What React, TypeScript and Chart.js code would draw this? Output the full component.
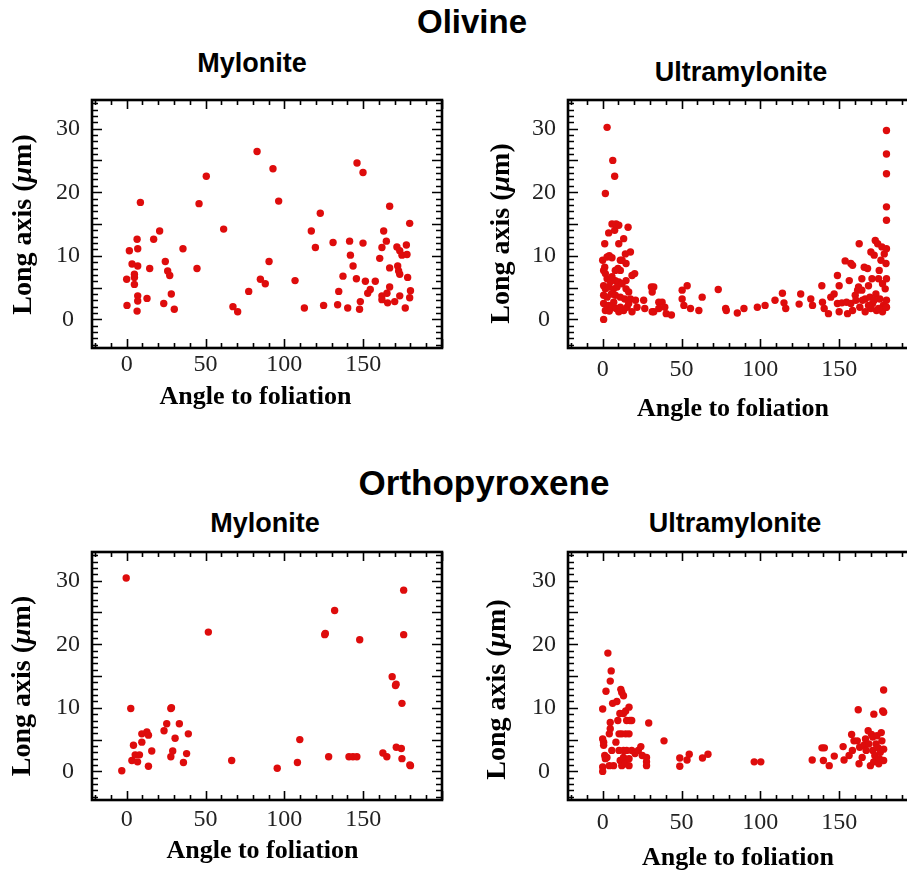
import React, { useEffect, useRef } from "react";
import { Chart, registerables } from "chart.js";

Chart.register(...registerables);

// ---------- data (angle to foliation [deg], long axis [µm]) ----------
const olivineMylonite: [number, number][] = [
  [0, 6.3], [0.2, 2.2], [1.7, 10.8], [3.4, 8.7], [4.9, 7.1], [4.9, 6.6], [4.9, 5.5], [6.6, 12.6],
  [7, 11.1], [7, 8.4], [7, 3.7], [7, 2.9], [6.6, 1.3], [8.7, 18.4], [12.9, 3.3], [14.6, 8],
  [17.1, 12.6], [20.9, 13.9], [23.5, 2.5], [24.5, 9.1], [26, 7.6], [27.3, 6.9], [28.3, 4], [30.2, 1.6],
  [35.7, 11.1], [44.6, 8], [45.9, 18.2], [50.5, 22.5], [61.5, 14.2], [67.4, 2], [70.4, 1.2], [77.4, 4.4],
  [82.7, 26.4], [84.8, 6.3], [87.9, 5.6], [90.3, 9.1], [92.8, 23.7], [96.4, 18.6], [106.8, 6.1], [112.7, 1.8],
  [117.1, 13.9], [119.7, 11.3], [122.8, 16.7], [124.9, 2.2], [130.9, 12.1], [133.8, 2.3], [134.5, 4.4],
  [137.2, 6.8], [140.2, 1.8], [141.4, 12.3], [141.9, 10.1], [143.6, 8.4], [145.7, 6.4], [146.1, 24.6],
  [147.7, 1.6], [148.2, 2.8], [149.9, 12], [149.9, 23.1], [151.4, 6], [152.9, 4.1], [154.5, 4.7],
  [157.7, 6], [160.5, 9.6], [161.9, 11.3], [161.9, 3.7], [161.9, 3.1], [163, 13.9], [164.7, 12.3],
  [165.1, 4.1], [165.5, 2.6], [166.8, 17.8], [166.8, 8.1], [166.8, 5.1], [170, 2.8], [171.4, 11.4],
  [171.9, 8.4], [172.5, 7.6], [173.2, 10.8], [173.2, 7.1], [173.2, 3.7], [174.6, 10.1], [176.7, 1.8],
  [177.4, 11.7], [177.8, 10.2], [178.2, 6.6], [179.5, 15.1], [179.5, 3.4], [180, 4.5],
];

const olivineUltramylonite: [number, number][] = [
  [0.6, 0], [2.8, 30.2], [1.7, 19.8], [6.4, 25], [7.6, 22.5], [1.3, 11.9], [0, 9.3], [0.6, 7.7],
  [1.3, 8.2], [2.8, 9.8], [3.8, 13.6], [4.2, 10], [5.9, 9.7], [5.9, 15], [7.6, 14], [8.5, 15],
  [10.2, 14.8], [10.2, 11.9], [11.2, 9.3], [9.7, 8], [11.2, 7.7], [13.3, 12.7], [16.1, 14.5], [14.4, 10.3],
  [14.8, 8.8], [17.6, 10.6], [20.3, 7.2], [18.6, 6.9], [2.8, 6.4], [8, 6.1], [10.2, 5.9], [14.8, 6.1],
  [0.6, 5.3], [1.7, 4.8], [3.8, 5.1], [6.9, 4.8], [9.1, 5.1], [14.8, 4.8], [16.5, 4.3], [0.6, 3.8],
  [2.8, 3.5], [5.5, 4], [8, 3.8], [11.2, 3.5], [14, 3.2], [17.6, 3.2], [20.8, 3], [0.6, 2.5],
  [3.8, 2.2], [5.9, 1.9], [8.5, 1.7], [11.2, 1.9], [13.3, 1.4], [15.5, 1.9], [18.6, 1.2], [21.8, 1.9],
  [1.7, 1.4], [4.2, 1.3], [10.2, 1.2], [16.5, 2.5], [7, 2.7], [4.9, 5.9], [12.3, 5.6], [1.7, 7.2],
  [5.9, 6.7], [8, 7.7], [12.3, 9.3],
  [26, 3], [26.7, 1.7], [30.9, 5.1], [32.4, 5.1], [31.4, 4.3], [32.4, 1.2], [31.4, 1.2], [35.6, 2.7],
  [37.7, 2.7], [35.6, 1.7], [39.4, 1.9], [40.3, 0.9], [43.6, 0.7], [50.4, 4.6], [53.6, 5.3], [50.4, 3.2],
  [51.5, 2.2], [55.7, 1.7], [61, 1.4], [63.1, 3.5], [73.3, 4.7], [78, 1.7], [78.4, 1.4], [85.4, 1],
  [89.6, 1.7], [98.1, 1.9], [103, 2.2], [109.3, 3], [114, 4.1], [115, 2.6], [116.1, 1.7], [124.6, 2.4],
  [125.6, 4], [132, 3.2], [133.1, 2.2], [139, 5.3], [139.4, 2.7], [140.5, 1.7], [143.2, 0.9],
  [144.7, 3.5], [146.8, 4], [148.9, 6.9], [150, 5.3], [148.9, 2.5], [150, 1.2], [151.7, 2.6], [153.8, 9.2],
  [154.7, 2.7], [155.3, 0.9], [156.4, 6.1], [157.4, 8.8], [158.5, 8.5], [157.4, 2.5], [158.5, 1.4],
  [160.2, 3.8], [160.6, 3], [161.7, 4.6], [162.3, 5.1], [162.7, 11.9], [163.1, 1.9], [164.4, 4.6],
  [164.4, 6.4], [165.9, 8.2], [166.5, 1.2], [166.5, 3.2], [168, 8], [168.6, 5.3], [169.5, 3.5],
  [170.1, 10.6], [170.8, 6.4], [171.2, 2.5], [172.2, 10.1], [172.9, 12.4], [173.3, 4], [173.7, 1.4],
  [174.4, 11.9], [175, 6.4], [175.4, 7.7], [175.8, 3.2], [176.5, 9.3], [177.1, 11.4], [177.5, 5.6],
  [178, 2.2], [178.6, 10.3], [179.2, 4.8], [179.7, 1.9], [179.7, 8.8], [180, 15.6], [180, 17.7],
  [180, 22.9], [180, 26], [180, 29.7], [180, 11.1], [180, 3], [177.5, 1.2], [175, 1.7], [172.2, 3],
  [170.1, 1.7], [168.6, 2.2], [164.8, 3], [180, 6.4], [180, 1.9],
];

const orthoMylonite: [number, number][] = [
  [-3.1, 0.1], [-0.3, 30.4], [2.6, 9.9], [4.3, 4.1], [3.3, 1.7], [5.4, 2.6], [6.9, 1.5], [8.1, 2.6],
  [9.6, 4.6], [9.6, 5.9], [12.8, 6.2], [13.8, 5.7], [13.8, 0.8], [15.9, 3.2], [23.7, 6.4], [25.4, 7.5],
  [28, 9.9], [28.4, 10], [28, 2.3], [29.2, 3.2], [30.7, 5.2], [33.4, 7.5], [36, 1.4], [38, 2.8],
  [39.1, 5.9], [51.8, 21.9], [66.6, 1.7], [95.5, 0.5], [108.3, 1.4], [109.8, 5], [125.6, 21.5],
  [126, 21.7], [131.9, 25.3], [128.1, 2.3], [141, 2.3], [143.5, 2.3], [146, 2.3], [147.8, 20.7],
  [162.5, 2.9], [165, 2.3], [168.4, 14.9], [170.5, 13.5], [170.9, 13.7], [171, 3.8], [174.2, 3.6],
  [174.6, 10.7], [174.6, 2], [175.7, 28.5], [175.7, 21.5], [180, 0.9], [179.6, 1],
];

const orthoUltramylonite: [number, number][] = [
  [0, 0], [0, 0.7], [0, 9.8], [0, 5.1], [0.6, 4.6], [0.6, 4.1], [1.3, 2.5], [1.7, 2], [2.7, 2.2],
  [2.1, 12.6], [3.3, 18.6], [4.2, 0.9], [4.2, 5.9], [4.8, 6.7], [4.8, 7.7], [5.4, 15.8], [4.8, 14.2],
  [6.3, 10.7], [5.8, 3.3], [6.9, 0.9], [9, 11], [9.6, 8], [8.4, 4.6], [10.4, 3.3], [11.5, 12.9],
  [10.9, 9.1], [12.1, 12.4], [13.2, 11.9], [13.2, 9.1], [14.6, 9.5], [10.4, 5.9], [12.1, 5.9], [14.6, 5.9],
  [16.7, 5.9], [15.2, 8], [17.3, 8], [18.4, 8], [16.7, 10.1], [11.1, 1.7], [12.1, 0.9], [13.2, 2.2],
  [14.2, 1.2], [13.2, 3.3], [15.2, 3.3], [16.7, 2], [16.7, 0.9], [18.4, 3.3], [20.5, 2.8], [22.6, 3.3],
  [24.2, 3.9], [25.1, 2.5], [27.8, 2.2], [27.8, 1.5], [27.8, 0.9], [29.2, 7.6], [38.9, 4.8], [48.9, 2.1],
  [48.9, 0.8], [53.5, 1.8], [54.9, 2.7], [63.3, 2.1], [66.8, 2.7], [96.1, 1.5], [100.3, 1.5],
  [132.9, 1.8], [139.1, 3.7], [140.6, 3.7], [140, 1.7], [143.7, 0.9], [146.9, 2.4], [152.5, 3.9],
  [153.1, 1.8], [156.3, 2.5], [157.9, 5.8], [158.4, 3.3], [159.4, 4.8], [162.1, 9.7], [162.6, 1.2],
  [161.5, 4.8], [163, 3.8], [164.6, 2.2], [165.7, 4.1], [166.7, 5.1], [167.1, 3.3], [168.4, 6.4],
  [168.8, 4.3], [169.8, 0.9], [170.5, 5.8], [171.3, 5.4], [171.3, 3.3], [172, 9], [171.9, 1.5],
  [172.6, 2.5], [173.4, 4.3], [174, 5.6], [174.7, 3.7], [175.1, 1.2], [176.1, 3], [176.7, 6.1],
  [177.1, 4.8], [177.6, 9.5], [178.2, 12.8], [178.2, 3.5], [178.2, 1.7], [175.5, 2], [178.2, 9.3],
];

const xTickLabels = [0, 50, 100, 150];
const yTickLabels = [0, 10, 20, 30];
const xAxisTitle = "Angle to foliation";
const yAxisTitle = "Long axis (μm)";
const sectionTitles = ["Olivine", "Orthopyroxene"];
const panelTitles = ["Mylonite", "Ultramylonite"];

// ---------- styling / layout ----------
const X_MIN = -22, X_MAX = 200, Y_MIN = -4.5, Y_MAX = 34.5;
const POINT_COLOR = "rgb(222, 12, 12)";
const SERIF = '"Liberation Serif", "Times New Roman", serif';
const SANS = '"Liberation Sans", Arial, Helvetica, sans-serif';
const CANVAS_W = 455, CANVAS_H = 340;

type PanelCfg = {
  data: [number, number][];
  left: number; top: number;
  xTickPad: number; xTitleDx: number; xTitleDy: number; yTitleDx: number; yTitleDy: number;
};

const panels: PanelCfg[] = [
  { data: olivineMylonite, left: 0, top: 88, xTickPad: 2, xTitleDx: -11.5, xTitleDy: 49, yTitleDx: 68, yTitleDy: 0.5 },
  { data: olivineUltramylonite, left: 476, top: 88, xTickPad: 7, xTitleDx: -10, xTitleDy: 61, yTitleDx: 66, yTitleDy: 9.5 },
  { data: orthoMylonite, left: 0, top: 540, xTickPad: 5, xTitleDx: -4.5, xTitleDy: 51, yTitleDx: 69, yTitleDy: 10 },
  { data: orthoUltramylonite, left: 476, top: 540, xTickPad: 8, xTitleDx: -5, xTitleDy: 58, yTitleDx: 70, yTitleDy: 13.5 },
];

const framePlugin = {
  id: "frameTicks",
  afterDraw(chart: any) {
    const { ctx, chartArea: a, scales } = chart;
    const xs = scales.x, ys = scales.y;
    ctx.save();
    ctx.strokeStyle = "#000";
    ctx.lineWidth = 1.6;
    ctx.beginPath();
    for (let v = Math.ceil(Y_MIN); v <= Math.floor(Y_MAX); v += 1) {
      const y = Math.round(ys.getPixelForValue(v)) + 0.5;
      const len = v % 5 === 0 ? 10 : 6;
      ctx.moveTo(a.left, y); ctx.lineTo(a.left + len, y);
      ctx.moveTo(a.right, y); ctx.lineTo(a.right - len, y);
    }
    for (let v = -20; v <= X_MAX; v += 10) {
      const x = Math.round(xs.getPixelForValue(v)) + 0.5;
      const len = v % 50 === 0 ? 9 : 5;
      ctx.moveTo(x, a.bottom); ctx.lineTo(x, a.bottom - len);
      ctx.moveTo(x, a.top); ctx.lineTo(x, a.top + len);
    }
    ctx.stroke();
    ctx.lineWidth = 2.6;
    ctx.strokeRect(a.left, a.top, a.right - a.left, a.bottom - a.top);
    ctx.restore();
  },
};

const axisTitlePlugin = {
  id: "axisTitles",
  afterDraw(chart: any, _args: any, opts: any) {
    const { ctx, chartArea: a } = chart;
    ctx.save();
    ctx.fillStyle = "#000";
    ctx.textBaseline = "middle";
    ctx.font = `bold 26px ${SERIF}`;
    ctx.textAlign = "center";
    ctx.fillText(xAxisTitle, (a.left + a.right) / 2 + opts.xDx, a.bottom + opts.xDy);
    const [pre, post] = yAxisTitle.split("μ");
    const parts = [
      { t: pre, f: `bold 28px ${SERIF}` },
      { t: "μ", f: `italic bold 28px ${SERIF}` },
      { t: post, f: `bold 28px ${SERIF}` },
    ];
    let total = 0;
    const widths = parts.map((p) => { ctx.font = p.f; const w = ctx.measureText(p.t).width; total += w; return w; });
    ctx.translate(a.left - opts.yDx, (a.top + a.bottom) / 2 + opts.yDy);
    ctx.rotate(-Math.PI / 2);
    ctx.textAlign = "left";
    let cx = -total / 2;
    parts.forEach((p, i) => { ctx.font = p.f; ctx.fillText(p.t, cx, 0); cx += widths[i]; });
    ctx.restore();
  },
};

function Panel({ cfg }: { cfg: PanelCfg }) {
  const ref = useRef<HTMLCanvasElement>(null);
  useEffect(() => {
    if (!ref.current) return;
    const chart = new Chart(ref.current, {
      type: "scatter",
      data: {
        datasets: [{
          data: cfg.data.map(([x, y]) => ({ x, y })),
          backgroundColor: POINT_COLOR,
          borderWidth: 0,
          pointRadius: 3.7,
          pointHoverRadius: 3.7,
        }],
      },
      options: {
        animation: false,
        responsive: false,
        maintainAspectRatio: false,
        events: [],
        layout: { padding: { left: 0, right: 13, top: 12, bottom: 20 } },
        plugins: {
          legend: { display: false },
          tooltip: { enabled: false },
          title: { display: false },
          axisTitles: { xDx: cfg.xTitleDx, xDy: cfg.xTitleDy, yDx: cfg.yTitleDx, yDy: cfg.yTitleDy },
        } as any,
        scales: {
          x: {
            type: "linear",
            min: X_MIN,
            max: X_MAX,
            grid: { display: false, drawTicks: false },
            border: { display: false },
            ticks: { font: { family: SERIF, size: 24 }, color: "#222", padding: cfg.xTickPad, maxRotation: 0, autoSkip: false },
            afterBuildTicks: (s: any) => { s.ticks = xTickLabels.map((v) => ({ value: v })); },
            afterFit: (s: any) => { s.height = 60; s.paddingLeft = 0; s.paddingRight = 0; },
          },
          y: {
            type: "linear",
            min: Y_MIN,
            max: Y_MAX,
            grid: { display: false, drawTicks: false },
            border: { display: false },
            ticks: { font: { family: SERIF, size: 24 }, color: "#222", padding: 12, crossAlign: "center", autoSkip: false },
            afterBuildTicks: (s: any) => { s.ticks = yTickLabels.map((v) => ({ value: v })); },
            afterFit: (s: any) => { s.width = 92; s.paddingTop = 0; s.paddingBottom = 0; },
          },
        },
      },
      plugins: [framePlugin, axisTitlePlugin],
    });
    return () => chart.destroy();
  }, [cfg]);
  return (
    <canvas
      ref={ref}
      width={CANVAS_W}
      height={CANVAS_H}
      style={{ position: "absolute", left: cfg.left, top: cfg.top, width: CANVAS_W, height: CANVAS_H }}
    />
  );
}

function Title({ text, cx, capCenter, size }: { text: string; cx: number; capCenter: number; size: number }) {
  return (
    <div
      style={{
        position: "absolute",
        left: cx,
        top: capCenter - 0.49 * size,
        transform: "translateX(-50%)",
        whiteSpace: "nowrap",
        fontFamily: SANS,
        fontWeight: "bold",
        fontSize: size,
        lineHeight: `${size}px`,
        color: "#000",
      }}
    >
      {text}
    </div>
  );
}

export default function App() {
  return (
    <div style={{ position: "fixed", left: 0, top: 0, width: 907, height: 870, overflow: "hidden", background: "#fff" }}>
      <Title text={sectionTitles[0]} cx={472} capCenter={21.5} size={33} />
      <Title text={sectionTitles[1]} cx={484} capCenter={482} size={35} />
      <Title text={panelTitles[0]} cx={252} capCenter={63} size={27} />
      <Title text={panelTitles[1]} cx={741} capCenter={72} size={27} />
      <Title text={panelTitles[0]} cx={265} capCenter={523} size={27} />
      <Title text={panelTitles[1]} cx={735} capCenter={523} size={27} />
      {panels.map((p, i) => <Panel key={i} cfg={p} />)}
    </div>
  );
}
